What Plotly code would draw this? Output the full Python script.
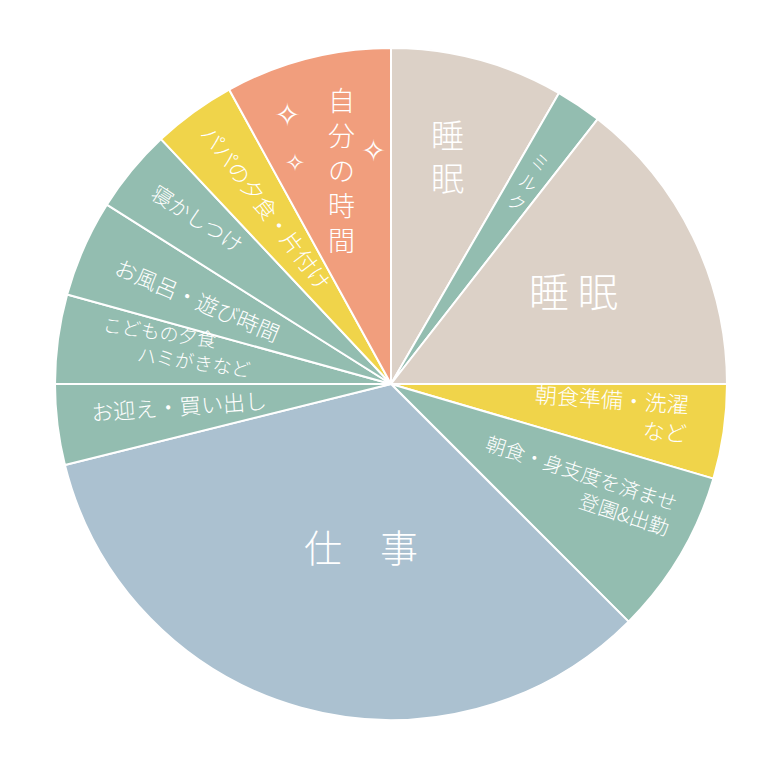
import math
import plotly.graph_objects as go

# ---- data (24-hour day, hours per activity, clockwise from 0:00) ----
slice_keys = ["睡眠1", "ミルク", "睡眠2", "朝食準備・洗濯など", "朝食・身支度を済ませ登園&出勤",
              "仕事", "お迎え・買い出し", "こどもの夕食ハミがきなど", "お風呂・遊び時間",
              "寝かしつけ", "パパの夕食・片付け", "自分の時間"]
hours = [2.0, 0.53, 3.47, 1.09, 1.91, 8.07, 0.93, 1.03, 1.12, 0.97, 0.96, 1.92]
label_text = ["睡<br>眠", "ミ<br>ル<br>ク", "睡 眠", "朝食準備・洗濯<br>など",
              "朝食・身支度を済ませ<br>登園&出勤", "仕　事", "お迎え・買い出し",
              "こどもの夕食<br>　　ハミがきなど", "お風呂・遊び時間", "寝かしつけ",
              "パパの夕食・片付け", "自<br>分<br>の<br>時<br>間"]

# ---- style ----
BEIGE, GREEN, YELLOW, BLUE, SALMON = "#DCD1C7", "#93BDB0", "#F0D44A", "#ABC1D0", "#F19E7D"
colors = [BEIGE, GREEN, BEIGE, YELLOW, GREEN, BLUE, GREEN, GREEN, GREEN, GREEN, YELLOW, SALMON]
label_r = [0.70, 0.73, 0.61, 0.66, 0.63, 0.49, 0.635, 0.647, 0.628, 0.758, 0.643, 0.655]
label_dang = [-1.0, 0.3, -1.3, -0.7, -2.2, -4.9, 1.3, 2.4, 0, 1.2, 1, 1.3]
label_rot = [0, 30, 0, 4, 18, 0, -4, 8, 23, 33, 53, 0]
label_size = [33, 18, 40, 22, 20, 38, 22, 19, 22, 21, 22, 27]
label_align = ["center", "center", "center", "right", "right", "center", "center",
               "left", "center", "center", "center", "center"]

W, H = 766, 773
OFF = 8  # page body margin offset (page px -> figure px)
# target pie on the page: centre (391, 384), radius 336
DOM_X = [(55 - OFF) / W, (727 - OFF) / W]
DOM_Y = [1 - (720 - OFF) / H, 1 - (48 - OFF) / H]
CX = (DOM_X[0] + DOM_X[1]) / 2 * W
CY = (1 - (DOM_Y[0] + DOM_Y[1]) / 2) * H
R = min((DOM_X[1] - DOM_X[0]) * W, (DOM_Y[1] - DOM_Y[0]) * H) / 2

FONT = "Noto Sans CJK JP"

fig = go.Figure(go.Pie(
    labels=slice_keys, values=hours, sort=False, direction="clockwise", rotation=0,
    marker=dict(colors=colors, line=dict(color="white", width=2)),
    textinfo="none", hoverinfo="label+value", showlegend=False,
    domain=dict(x=DOM_X, y=DOM_Y),
))

total = sum(hours)
cum = 0
annotations = []
for i, h in enumerate(hours):
    mid = (cum + h / 2) / total * 360 + label_dang[i]
    cum += h
    a = math.radians(mid)
    px = CX + label_r[i] * R * math.sin(a)
    py = CY - label_r[i] * R * math.cos(a)
    annotations.append(dict(
        x=px / W, y=1 - py / H, xref="paper", yref="paper", showarrow=False,
        xanchor="center", yanchor="middle",
        text=label_text[i], textangle=label_rot[i], align=label_align[i],
        font=dict(family=FONT, size=label_size[i], color="white", weight=300),
    ))

# sparkles decoration in the 自分の時間 slice (page px)
for sx, sy, ss in [(287, 115, 32), (373, 150, 30), (295, 163, 24)]:
    annotations.append(dict(x=(sx - OFF) / W, y=1 - (sy - OFF) / H, xref="paper", yref="paper",
                            showarrow=False, xanchor="center", yanchor="middle", text="✧",
                            font=dict(family="DejaVu Sans", size=ss, color="white")))

fig.update_layout(
    width=W, height=H, margin=dict(l=0, r=0, t=0, b=0),
    paper_bgcolor="white", plot_bgcolor="white",
    annotations=annotations,
)
fig.write_html("out.html")
